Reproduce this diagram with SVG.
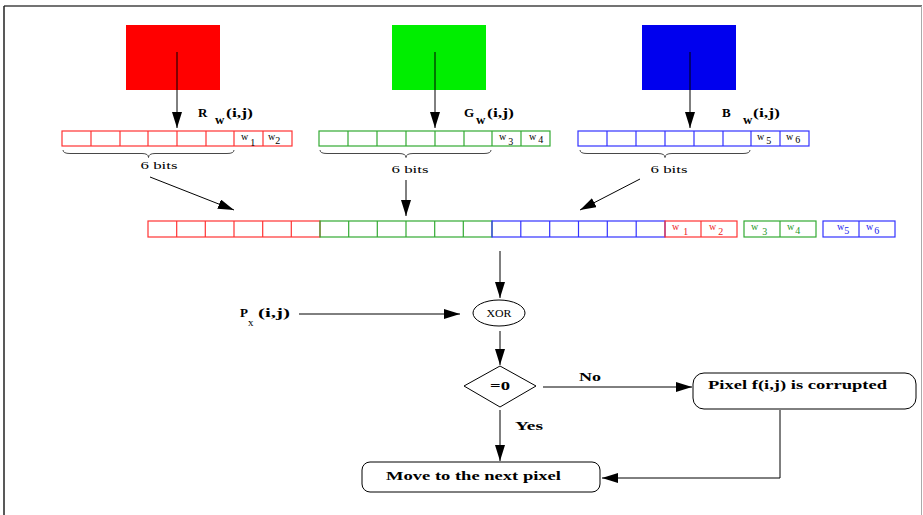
<svg xmlns="http://www.w3.org/2000/svg" width="923" height="515" viewBox="0 0 923 515">
<style>
text{font-family:"Liberation Serif","Times New Roman",serif;font-weight:bold;fill:#000}
.lbl{font-size:13px}
.sm{font-size:10px;font-weight:normal}
.cell{fill:none;stroke-width:1.2}
.r{stroke:#ff3333}.g{stroke:#33aa33}.b{stroke:#3333ff}
.rt{fill:#ee2222}.gt{fill:#229922}.bt{fill:#2222ee}
.ln{stroke:#000;stroke-width:1;fill:none}
.br{stroke:#333;stroke-width:0.9;fill:none}
</style>
<defs>
<marker id="ah" markerWidth="16" markerHeight="10" refX="16" refY="5" orient="auto" markerUnits="userSpaceOnUse">
<path d="M0,0 L16,5 L0,10 Z" fill="#000"/>
</marker>
</defs>
<rect x="0" y="0" width="923" height="515" fill="#fff"/>
<g id="frame">
<line x1="4" y1="6" x2="922" y2="6" stroke="#444" stroke-width="1.5"/>
<line x1="4" y1="6" x2="4" y2="515" stroke="#222" stroke-width="1.5"/>
<line x1="921.5" y1="6" x2="921.5" y2="515" stroke="#aaa" stroke-width="1"/>
</g>
<g id="red-square"><rect x="126" y="25" width="94" height="65" fill="#ff0000"/></g>
<g id="green-square"><rect x="392" y="25" width="94" height="65" fill="#00ee00"/></g>
<g id="blue-square"><rect x="642" y="25" width="94" height="65" fill="#0000ee"/></g>

<g id="red-register">
<rect class="cell r" x="62" y="131" width="230" height="15"/>
<path class="cell r" d="M91,131v15M120,131v15M148,131v15M177,131v15M206,131v15M234,131v15M263,131v15"/>
<text class="sm" x="241" y="140">w<tspan dx="2" dy="6">1</tspan></text>
<text class="sm" x="268" y="140">w<tspan dy="4">2</tspan></text>
<text class="lbl" x="198" y="117">R</text><text class="lbl" x="215" y="124">w</text><text class="lbl" x="226" y="117" textLength="27" lengthAdjust="spacingAndGlyphs">(i,j)</text>
<path class="br" d="M63,150 Q63,153.5 70,153.5 L142,153.5 Q148.5,153.5 148.5,157.5 Q148.5,153.5 155,153.5 L227,153.5 Q234,153.5 234,150"/>
<text class="sm" x="159" y="169" text-anchor="middle" textLength="37" lengthAdjust="spacingAndGlyphs">6 bits</text>
</g>

<g id="green-register">
<rect class="cell g" x="319" y="131" width="231" height="15"/>
<path class="cell g" d="M348,131v15M377,131v15M406,131v15M435,131v15M464,131v15M492,131v15M521,131v15"/>
<text class="sm" x="499" y="140">w<tspan dx="2" dy="5">3</tspan></text>
<text class="sm" x="529" y="140">w<tspan dx="2" dy="3">4</tspan></text>
<text class="lbl" x="464" y="117">G</text><text class="lbl" x="476" y="124">w</text><text class="lbl" x="487" y="117" textLength="27" lengthAdjust="spacingAndGlyphs">(i,j)</text>
<path class="br" d="M320,150 Q320,153.5 327,153.5 L399,153.5 Q406,153.5 406,157.5 Q406,153.5 413,153.5 L484,153.5 Q491,153.5 491,150"/>
<text class="sm" x="410" y="173" text-anchor="middle" textLength="37" lengthAdjust="spacingAndGlyphs">6 bits</text>
</g>

<g id="blue-register">
<rect class="cell b" x="578" y="131" width="231" height="15"/>
<path class="cell b" d="M607,131v15M636,131v15M665,131v15M694,131v15M723,131v15M751,131v15M780,131v15"/>
<text class="sm" x="757" y="140">w<tspan dx="2" dy="4">5</tspan></text>
<text class="sm" x="786" y="140">w<tspan dx="2" dy="3">6</tspan></text>
<text class="lbl" x="722" y="117">B</text><text class="lbl" x="743" y="124">w</text><text class="lbl" x="753" y="117" textLength="27" lengthAdjust="spacingAndGlyphs">(i,j)</text>
<path class="br" d="M580,150 Q580,153.5 587,153.5 L658,153.5 Q665,153.5 665,157.5 Q665,153.5 672,153.5 L743,153.5 Q750,153.5 750,150"/>
<text class="sm" x="669" y="173" text-anchor="middle" textLength="37" lengthAdjust="spacingAndGlyphs">6 bits</text>
</g>

<g id="combined-register">
<rect class="cell r" x="148" y="221" width="172" height="16"/>
<path class="cell r" d="M176.7,221v16M205.3,221v16M234,221v16M262.7,221v16M291.3,221v16"/>
<rect class="cell g" x="320" y="221" width="172" height="16"/>
<path class="cell g" d="M348.7,221v16M377.3,221v16M406,221v16M434.7,221v16M463.3,221v16"/>
<rect class="cell b" x="492" y="221" width="173" height="16"/>
<path class="cell b" d="M520.8,221v16M549.7,221v16M578.5,221v16M607.3,221v16M636.2,221v16"/>
<rect class="cell r" x="665" y="221" width="72" height="16"/>
<path class="cell r" d="M701,221v16"/>
<text class="sm rt" x="672" y="230">w<tspan dx="4" dy="5">1</tspan></text>
<text class="sm rt" x="709" y="230">w<tspan dx="2" dy="5">2</tspan></text>
<rect class="cell g" x="744" y="221" width="72" height="16"/>
<path class="cell g" d="M780,221v16"/>
<text class="sm gt" x="751" y="230">w<tspan dx="4" dy="5">3</tspan></text>
<text class="sm gt" x="787" y="230">w<tspan dx="1" dy="4">4</tspan></text>
<rect class="cell b" x="823" y="221" width="72" height="16"/>
<path class="cell b" d="M859,221v16"/>
<text class="sm bt" x="837" y="230">w<tspan dy="4">5</tspan></text>
<text class="sm bt" x="866" y="230">w<tspan dx="1" dy="4">6</tspan></text>
</g>

<g id="px-label"><text class="lbl" x="240" y="317">P</text><text x="248" y="326" font-size="11" style="font-weight:normal">x</text><text class="lbl" x="258" y="317" textLength="32" lengthAdjust="spacingAndGlyphs">(i,j)</text></g>
<g id="xor"><ellipse cx="499" cy="313" rx="26" ry="13" fill="#fff" stroke="#000" stroke-width="1"/><text x="499" y="317" text-anchor="middle" font-size="10" style="font-weight:normal" textLength="25" lengthAdjust="spacingAndGlyphs">XOR</text></g>
<g id="check"><path d="M464,386 L500,366 L536,386 L500,407 Z" fill="#fff" stroke="#000" stroke-width="1"/><text class="lbl" x="500" y="390" text-anchor="middle" textLength="20" lengthAdjust="spacingAndGlyphs">=0</text></g>
<g id="corrupted"><rect x="693" y="373" width="223" height="36" rx="11" fill="#fff" stroke="#000" stroke-width="1"/><text class="lbl" x="708" y="389" textLength="179" lengthAdjust="spacingAndGlyphs">Pixel f(i,j) is corrupted</text></g>
<g id="next-pixel"><rect x="362" y="462" width="238" height="30" rx="8" fill="#fff" stroke="#000" stroke-width="1"/><text class="lbl" x="386" y="480" textLength="175" lengthAdjust="spacingAndGlyphs">Move to the next pixel</text></g>

<g id="connectors">
<line class="ln" x1="177" y1="52" x2="177" y2="128" marker-end="url(#ah)" stroke-width="1.3"/>
<line class="ln" x1="435" y1="52" x2="435" y2="128" marker-end="url(#ah)" stroke-width="1.3"/>
<line class="ln" x1="690" y1="52" x2="690" y2="128" marker-end="url(#ah)" stroke-width="1.3"/>
<line class="ln" x1="150" y1="177" x2="234" y2="210" marker-end="url(#ah)"/>
<line class="ln" x1="406" y1="180" x2="406" y2="216" marker-end="url(#ah)"/>
<line class="ln" x1="640" y1="179" x2="580" y2="210" marker-end="url(#ah)"/>
<line class="ln" x1="500" y1="251" x2="500" y2="298" marker-end="url(#ah)" stroke-width="1.3"/>
<line class="ln" x1="299" y1="314" x2="460" y2="314" marker-end="url(#ah)"/>
<line class="ln" x1="500" y1="331" x2="500" y2="365" marker-end="url(#ah)" stroke-width="1.3"/>
<line class="ln" x1="543" y1="387" x2="692" y2="387" marker-end="url(#ah)" stroke="#555"/>
<line class="ln" x1="500" y1="410" x2="500" y2="461" marker-end="url(#ah)" stroke-width="1.3"/>
<polyline class="ln" points="780,410 780,478 602,478" marker-end="url(#ah)"/>
<text class="lbl" x="579" y="381" textLength="22" lengthAdjust="spacingAndGlyphs">No</text>
<text class="lbl" x="515" y="430" textLength="28" lengthAdjust="spacingAndGlyphs">Yes</text>
</g>
</svg>
